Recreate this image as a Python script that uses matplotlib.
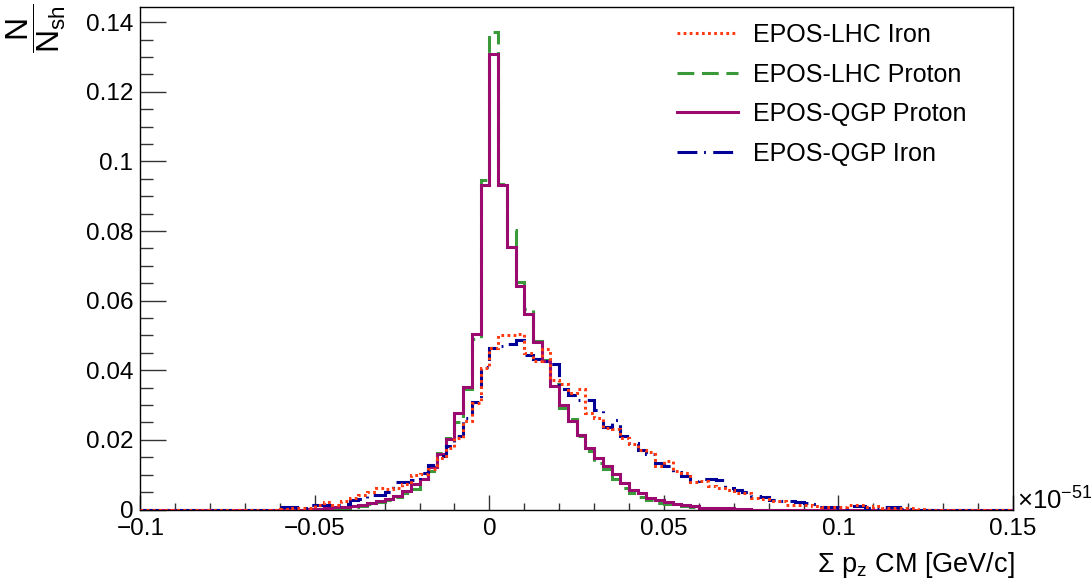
import numpy as np
import matplotlib
matplotlib.use("Agg")
import matplotlib.pyplot as plt
from matplotlib.ticker import FixedLocator, FixedFormatter, MultipleLocator

plt.rcParams['font.family'] = ['Liberation Sans', 'DejaVu Sans']
plt.rcParams['mathtext.fontset'] = 'custom'
plt.rcParams['mathtext.rm'] = 'Liberation Sans'
plt.rcParams['mathtext.it'] = 'Liberation Sans:italic'

### DATA ###
# histogram: 100 bins of 0.0025 from -0.1 to 0.15 (x 1e-51)
bin_width = 0.0025
n_bins = 100
x_start = -0.1
# values listed from bin index -25 (bin [-0.0625,-0.06]) to bin 50, rest empty
first_bin = -25

lhc_iron = [0, 0.0002, 0.0004, 0.0005, 0.0005, 0.0012, 0.0021, 0.0014, 0.0024, 0.0033,
            0.0043, 0.0050, 0.0062, 0.0060, 0.0062, 0.0072, 0.0098, 0.0101, 0.0115, 0.0148,
            0.0178, 0.0205, 0.0255, 0.0306, 0.0407, 0.0464, 0.0500, 0.0500, 0.0503, 0.0450,
            0.0426, 0.0460, 0.0373, 0.0360, 0.0335, 0.0345, 0.0278, 0.0263, 0.0235, 0.0230,
            0.0206, 0.0187, 0.0170, 0.0165, 0.0125, 0.0139, 0.0110, 0.0105, 0.0080, 0.0082,
            0.0067, 0.0062, 0.0057, 0.0048, 0.0048, 0.0034, 0.0030, 0.0024, 0.0024, 0.0014,
            0.0014, 0.0014, 0.0011, 0.0008, 0.0008, 0.0008, 0.0014, 0.0014, 0.0006, 0.0009,
            0.0004, 0.0004, 0.0004, 0.0003, 0.0002, 0]

lhc_proton = [0, 0, 0, 0, 0, 0.0001, 0.0003, 0.0004, 0.0005, 0.0007,
              0.0010, 0.0015, 0.0022, 0.0028, 0.0037, 0.0047, 0.0060, 0.0082, 0.0112, 0.0162,
              0.0206, 0.0250, 0.0345, 0.0490, 0.0948, 0.1372, 0.0935, 0.0802, 0.0653, 0.0575,
              0.0484, 0.0431, 0.0362, 0.0292, 0.0260, 0.0210, 0.0167, 0.0135, 0.0115, 0.0088,
              0.0062, 0.0048, 0.0037, 0.0027, 0.0020, 0.0017, 0.0012, 0.0010, 0.0006, 0.0004,
              0.0003, 0.0002, 0.0001, 0, 0, 0, 0, 0, 0, 0,
              0, 0, 0, 0, 0, 0, 0, 0, 0, 0,
              0, 0, 0, 0, 0, 0]

qgp_proton = [0, 0, 0, 0, 0.0001, 0.0002, 0.0005, 0.0008, 0.0008, 0.0011,
              0.0014, 0.0019, 0.0024, 0.0031, 0.0040, 0.0053, 0.0072, 0.0088, 0.0122, 0.0160,
              0.0202, 0.0278, 0.0352, 0.0503, 0.0932, 0.1309, 0.0932, 0.0755, 0.0642, 0.0562,
              0.0482, 0.0426, 0.0356, 0.0299, 0.0255, 0.0215, 0.0177, 0.0147, 0.0124, 0.0101,
              0.0077, 0.0057, 0.0046, 0.0034, 0.0026, 0.0021, 0.0017, 0.0014, 0.0009, 0.0005,
              0.0005, 0.0003, 0.0003, 0.0002, 0.0001, 0, 0, 0, 0, 0,
              0, 0, 0, 0, 0, 0, 0, 0, 0, 0,
              0, 0, 0, 0, 0, 0]

qgp_iron = [0, 0.0008, 0.0008, 0.0005, 0.0014, 0.0014, 0.0014, 0.0014, 0.0017, 0.0027,
            0.0030, 0.0043, 0.0043, 0.0050, 0.0078, 0.0078, 0.0085, 0.0105, 0.0129, 0.0155,
            0.0182, 0.0211, 0.0263, 0.0308, 0.0410, 0.0464, 0.0470, 0.0475, 0.0486, 0.0443,
            0.0432, 0.0428, 0.0417, 0.0345, 0.0330, 0.0314, 0.0314, 0.0287, 0.0237, 0.0258,
            0.0210, 0.0190, 0.0172, 0.0160, 0.0134, 0.0125, 0.0107, 0.0095, 0.0081, 0.0087,
            0.0088, 0.0086, 0.0062, 0.0057, 0.0050, 0.0040, 0.0035, 0.0028, 0.0024, 0.0024,
            0.0022, 0.0018, 0.0016, 0.0008, 0.0006, 0.0005, 0.0010, 0.0010, 0.0004, 0.0003,
            0.0008, 0.0008, 0.0002, 0.0001, 0, 0]

labels = ["EPOS-LHC Iron", "EPOS-LHC Proton", "EPOS-QGP Proton", "EPOS-QGP Iron"]
x_ticks = [-0.1, -0.05, 0, 0.05, 0.1, 0.15]
x_tick_labels = ["\u22120.1", "\u22120.05", "0", "0.05", "0.1", "0.15"]
y_ticks = [0, 0.02, 0.04, 0.06, 0.08, 0.1, 0.12, 0.14]
y_tick_labels = ["0", "0.02", "0.04", "0.06", "0.08", "0.1", "0.12", "0.14"]


def full_hist(vals):
    h = np.zeros(n_bins)
    i0 = first_bin - int(round(x_start / bin_width))
    h[i0:i0 + len(vals)] = vals
    return h


edges = x_start + bin_width * np.arange(n_bins + 1)

### PLOT ###
W, H = 1091, 586
fig = plt.figure(figsize=(W / 100, H / 100), dpi=100)
ax = fig.add_axes([140.3 / W, 1 - 509.5 / H, 872.7 / W, (509.5 - 7.3) / H])

lw = 2.2
s_lhc_fe = ax.stairs(full_hist(lhc_iron), edges, baseline=None, color='#ff3a10',
                     lw=lw, ls=(0, (0.9, 1.1)), zorder=5)
s_lhc_p = ax.stairs(full_hist(lhc_proton), edges, baseline=None, color='#3a9a3a',
                    lw=lw, ls=(0, (5.5, 2.5)), zorder=2)
s_qgp_p = ax.stairs(full_hist(qgp_proton), edges, baseline=None, color='#9b0a6e',
                    lw=lw, ls='-', zorder=3)
s_qgp_fe = ax.stairs(full_hist(qgp_iron), edges, baseline=None, color='#000099',
                     lw=lw, ls=(0, (6.5, 2.2, 0.6, 2.4)), zorder=4)

ax.set_xlim(-0.1, 0.15)
ax.set_ylim(0, 0.1443)

ax.xaxis.set_major_locator(FixedLocator(x_ticks))
ax.xaxis.set_major_formatter(FixedFormatter(x_tick_labels))
ax.xaxis.set_minor_locator(MultipleLocator(0.01))
ax.yaxis.set_major_locator(FixedLocator(y_ticks))
ax.yaxis.set_major_formatter(FixedFormatter(y_tick_labels))
ax.yaxis.set_minor_locator(MultipleLocator(0.005))

ax.tick_params(which='both', direction='in', top=False, right=False, labelsize=17.5,
               width=1, color='#333333')
ax.tick_params(axis='x', which='major', length=10.8, pad=6)
ax.tick_params(axis='x', which='minor', length=5.4)
ax.tick_params(axis='y', which='major', length=18.5, pad=5)
ax.tick_params(axis='y', which='minor', length=9.3)
for sp in ax.spines.values():
    sp.set_linewidth(1)

# axis titles (ROOT style, right/top aligned)
fig.text(1015 / W, 1 - 572 / H, "\u03a3 p$_{\\mathrm{z}}$ CM [GeV/c]", ha='right',
         va='baseline', fontsize=19.5)
fig.text(36 / W, 1 - 3 / H, r"$\dfrac{\mathrm{N}}{\mathrm{N}_{\mathrm{sh}}}$", rotation=90,
         ha='center', va='top', fontsize=23)
fig.text(1017 / W, 1 - 510 / H, "$\\times$10$^{-51}$", ha='left',
         va='baseline', fontsize=18.5)

ax.legend([s_lhc_fe, s_lhc_p, s_qgp_p, s_qgp_fe], labels, loc='upper left',
          bbox_to_anchor=(677 / W, 1 - 23 / H), bbox_transform=fig.transFigure,
          frameon=False, fontsize=18, handlelength=2.45, handletextpad=0.58,
          labelspacing=0.62, borderpad=0, borderaxespad=0)

fig.savefig("out.png", dpi=100)
